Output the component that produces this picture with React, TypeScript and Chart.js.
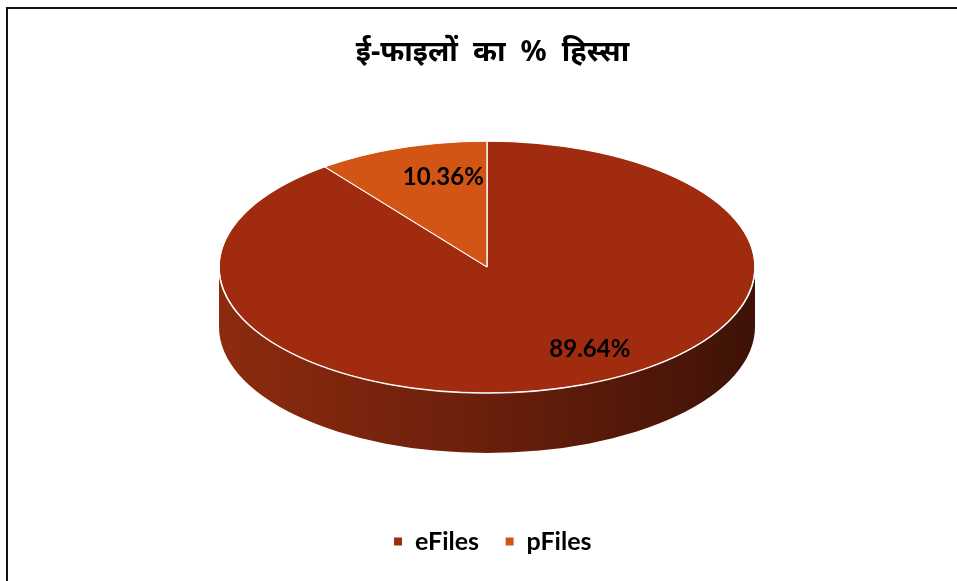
import React, { useEffect, useRef } from "react";
import { Chart, registerables } from "chart.js";

Chart.register(...registerables);

const TITLE = "ई-फाइलों\u00a0 का\u00a0 %\u00a0 हिस्सा";
const CATEGORIES = ["eFiles", "pFiles"];
const VALUES = [89.64, 10.36];
const TOP_COLORS = ["#A02B0E", "#D35516"];
const SIDE_COLORS = [
  ["#8C2B10", "#6A1F0B", "#3E1207"],
  ["#B04812", "#8A3810", "#5A2408"],
];

// geometry of the tilted pie (canvas coordinates)
const CX = 479;
const CY = 258;
const RX = 268;
const RY = 126;
const DEPTH = 60;
const LABEL_ANCHOR = [
  { fx: 1.2, fy: 0.69 },
  { fx: 0.51, fy: 0.75 },
];

const pie3d = {
  id: "pie3d",
  beforeDatasetsDraw(chart: any) {
    const ctx = chart.ctx;
    const meta = chart.getDatasetMeta(0);
    const arcs = meta.data;
    if (!arcs.length) return;
    ctx.save();
    arcs.forEach((arc: any, i: number) => {
      const s = arc.startAngle;
      const e = arc.endAngle;
      const windows = [
        [0, Math.PI],
        [2 * Math.PI, 3 * Math.PI],
        [-2 * Math.PI, -Math.PI],
      ];
      windows.forEach(([w0, w1]) => {
        const a = Math.max(s, w0);
        const b = Math.min(e, w1);
        if (b <= a) return;
        const g = ctx.createLinearGradient(CX - RX, 0, CX + RX, 0);
        const cols = SIDE_COLORS[i];
        g.addColorStop(0, cols[0]);
        g.addColorStop(0.5, cols[1]);
        g.addColorStop(1, cols[2]);
        ctx.beginPath();
        ctx.ellipse(CX, CY, RX, RY, 0, a, b, false);
        ctx.lineTo(CX + RX * Math.cos(b), CY + RY * Math.sin(b) + DEPTH);
        ctx.ellipse(CX, CY + DEPTH, RX, RY, 0, b, a, true);
        ctx.closePath();
        ctx.fillStyle = g;
        ctx.fill();
      });
    });
    const arc0 = arcs[0];
    const R = arc0.outerRadius;
    ctx.translate(CX, CY);
    ctx.scale(RX / R, RY / R);
    ctx.translate(-arc0.x, -arc0.y);
  },
  afterDatasetsDraw(chart: any) {
    const ctx = chart.ctx;
    const meta = chart.getDatasetMeta(0);
    ctx.restore();
    ctx.save();
    ctx.beginPath();
    ctx.ellipse(CX, CY, RX, RY, 0, 0, Math.PI * 2);
    ctx.strokeStyle = "rgba(255,255,255,0.9)";
    ctx.lineWidth = 1.5;
    ctx.stroke();
    ctx.font = "bold 24px Lato, 'Noto Sans', sans-serif";
    ctx.fillStyle = "#000";
    ctx.textAlign = "center";
    ctx.textBaseline = "middle";
    meta.data.forEach((arc: any, i: number) => {
      const mid = (arc.startAngle + arc.endAngle) / 2;
      const an = LABEL_ANCHOR[i];
      const x = CX + Math.cos(mid) * RX * an.fx;
      const y = CY + Math.sin(mid) * RY * an.fy;
      ctx.fillText(VALUES[i].toFixed(2) + "%", x, y);
    });
    ctx.restore();
  },
};

export default function App() {
  const ref = useRef<HTMLCanvasElement>(null);
  useEffect(() => {
    if (!ref.current) return;
    const chart = new Chart(ref.current, {
      type: "pie",
      data: {
        labels: CATEGORIES,
        datasets: [
          {
            data: VALUES,
            backgroundColor: TOP_COLORS,
            borderColor: "#ffffff",
            borderWidth: 1,
            clip: false as any,
          },
        ],
      },
      options: {
        animation: false,
        responsive: true,
        maintainAspectRatio: false,
        layout: { padding: { left: 20, top: 26, bottom: 17 } },
        plugins: {
          tooltip: { enabled: false },
          title: {
            display: true,
            text: TITLE,
            color: "#000",
            font: { size: 29, weight: "bold", family: "'Noto Sans', Lato, sans-serif" },
            padding: { top: 0, bottom: 10 },
          },
          legend: {
            position: "bottom",
            labels: {
              color: "#000",
              boxWidth: 9,
              boxHeight: 9,
              padding: 26,
              font: { size: 25, weight: "bold", family: "Lato, 'Noto Sans', sans-serif" },
            },
          },
        },
      },
      plugins: [pie3d],
    });
    return () => chart.destroy();
  }, []);
  return (
    <div
      style={{
        position: "absolute",
        left: 6,
        top: 7,
        width: 949,
        height: 572,
        borderTop: "2px solid #111",
        borderLeft: "2px solid #111",
        background: "#fff",
      }}
    >
      <canvas ref={ref} />
    </div>
  );
}
